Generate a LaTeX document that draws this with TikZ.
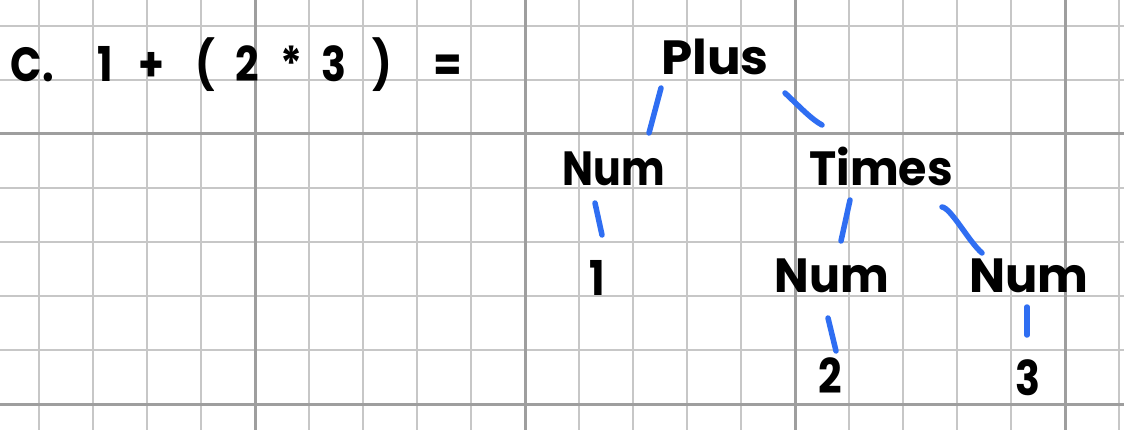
\documentclass[tikz,border=0pt]{standalone}
\usepackage{fontspec}
\setmainfont{Poppins}
\definecolor{blueline}{HTML}{2F6EF2}
\newcommand{\hw}[1]{\scalebox{1.03}[1.2]{#1}}
\begin{document}
\begin{tikzpicture}[x=1pt,y=-1pt,
  minor/.style={draw=black!22,line width=1.3pt},
  major/.style={draw=black!38,line width=3pt},
  lbl/.style={anchor=base,inner sep=0pt,font=\fontsize{40}{40}\selectfont\bfseries},
  conn/.style={draw=blueline,line width=5.5pt,line cap=round}]
\useasboundingbox (0,0) rectangle (1124,430);
\fill[white] (0,0) rectangle (1124,430);
% grid
\foreach \i in {0,...,20} {\draw[minor] (39+54*\i,0) -- (39+54*\i,430);}
\foreach \j in {0,...,7} {\draw[minor] (0,26+54*\j) -- (1124,26+54*\j);}
\foreach \xx in {255,525,795,1065} {\draw[major] (\xx,0) -- (\xx,430);}
\foreach \yy in {134,404} {\draw[major] (0,\yy) -- (1124,\yy);}
% expression
\node[lbl,anchor=base west] (expr) at (32,82)
  {\hw{\makebox[0pt]{C.}\hspace{71pt}\makebox[0pt]{1}\hspace{45pt}\makebox[0pt]{+}\hspace{52pt}\makebox[0pt]{(}\hspace{41pt}\makebox[0pt]{2}\hspace{43pt}\makebox[0pt]{*}\hspace{41pt}\makebox[0pt]{3}\hspace{47pt}\makebox[0pt]{)}\hspace{64pt}\makebox[0pt]{=}}};
% tree
\node[lbl] (plus)  at (715,75)  {\scalebox{1.25}[1.2]{Plus}};
\node[lbl] (numA)  at (614,186) {\hw{Num}};
\node[lbl] (times) at (881,186) {\scalebox{1.15}[1.2]{Times}};
\node[lbl] (one)   at (597,295) {\hw{1}};
\node[lbl] (numB)  at (832,292) {\scalebox{1.15}[1.2]{Num}};
\node[lbl] (numC)  at (1029,292) {\scalebox{1.2}[1.2]{Num}};
\node[lbl] (two)   at (830,393) {\hw{2}};
\node[lbl] (three) at (1028,395) {\hw{3}};
% connectors
\draw[conn] ([shift={(-54,13)}]plus.base) -- ([shift={(35,-53)}]numA.base);
\draw[conn] ([shift={(70,18)}]plus.base) .. controls ([shift={(85,32)}]plus.base) and ([shift={(-70,-67)}]times.base) .. ([shift={(-59,-61)}]times.base);
\draw[conn] ([shift={(-19,17)}]numA.base) -- ([shift={(5,-60)}]one.base);
\draw[conn] ([shift={(-31,14)}]times.base) -- ([shift={(9,-51)}]numB.base);
\draw[conn] ([shift={(61,21)}]times.base) .. controls ([shift={(70,22)}]times.base) and ([shift={(-60,-50)}]numC.base) .. ([shift={(-47,-39)}]numC.base);
\draw[conn] ([shift={(-4,26)}]numB.base) -- ([shift={(6,-42)}]two.base);
\draw[conn] ([shift={(-2,15)}]numC.base) -- ([shift={(-1,-60)}]three.base);
\end{tikzpicture}
\end{document}
